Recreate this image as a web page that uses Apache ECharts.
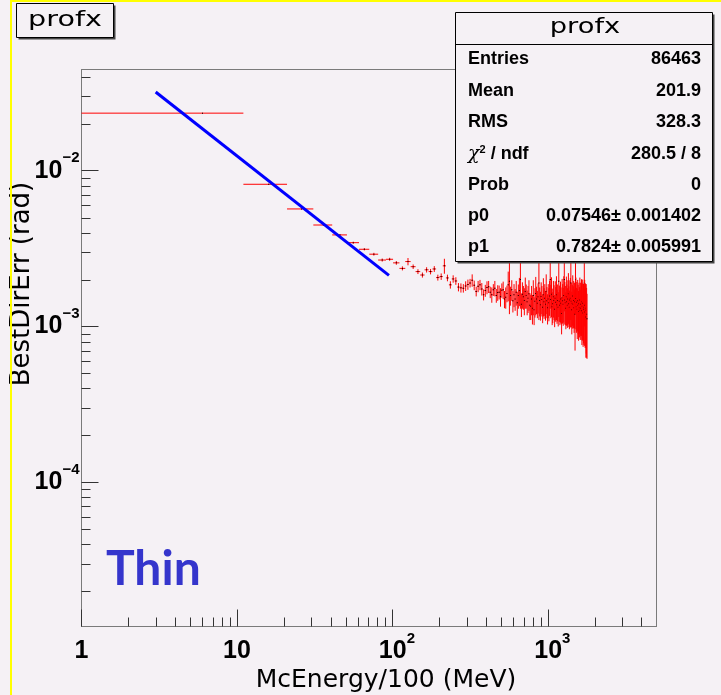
<!DOCTYPE html>
<html><head><meta charset="utf-8">
<script src="https://cdn.jsdelivr.net/npm/echarts@6/dist/echarts.min.js"></script>
<style>html,body{margin:0;padding:0;background:#f5f1f5;}#c{width:721px;height:695px;}</style>
</head><body><div id="c"></div>
<script>
// ---- axis ranges ----
const xMin = 1, xMax = 5000;
const yMin = 1.187e-5, yMax = 0.0446;
// ---- profile bins: [1+10k, 11+10k] ----
const binLow0 = 1, binWidth = 10;
const profMean = [
 0.0234,0.00818,0.00568,0.00448,0.00387,0.00345,0.00313,0.00291,0.00267,0.00270,
 0.00256,0.00236,0.00261,0.00242,0.00225,0.00214,0.00231,0.00225,0.00234,0.00206,
 0.00209,0.00245,0.00205,0.00185,0.00202,0.00196,0.00179,0.00177,0.00176,0.00182,
 0.00186,0.00190,0.00198,0.00184,0.00168,0.00181,0.00185,0.00174,0.00160,0.00170,
 0.00178,0.00180,0.00166,0.00160,0.00172,0.00176,0.00158,0.00165,0.00166,0.00155,
 0.00171,0.00172,0.00150,0.00154,0.00163,0.00185,0.00195,0.00158,0.00172,0.00146,
 0.00160,0.00150,0.00166,0.00142,0.00158,0.00170,0.00200,0.00139,0.00161,0.00155,
 0.00147,0.00168,0.00158,0.00144,0.00152,0.00162,0.00137,0.00135,0.00150,0.00131,
 0.00158,0.00128,0.00145,0.00163,0.00150,0.00141,0.00155,0.00190,0.00147,0.00138,
 0.00156,0.00149,0.00133,0.00160,0.00144,0.00152,0.00139,0.00168,0.00146,0.00132,
 0.00150,0.00142,0.00157,0.00200,0.00149,0.00161,0.00134,0.00140,0.00155,0.00147,
 0.00129,0.00152,0.00143,0.00160,0.00138,0.00147,0.00133,0.00195,0.00145,0.00137,
 0.00150,0.00141,0.00121,0.00153,0.00146,0.00139,0.00158,0.00200,0.00148,0.00142,
 0.00131,0.00155,0.00144,0.00137,0.00150,0.00162,0.00140,0.00133,0.00148,0.00152,
 0.00190,0.00145,0.00128,0.00141,0.00157,0.00139,0.00147,0.00132,0.00144,0.00120,
 0.00200,0.00151,0.00134,0.00143,0.00129,0.00146,0.00137,0.00125,0.00140,0.00132,
 0.00148,0.00127,0.00139,0.00131,0.00144,0.00126,0.00135,0.00141,0.00122,0.00133,
 0.00129,0.00190,0.00137,0.00124,0.00131,0.00115,0.00127,0.00120,0.00112
];
const profErr = [
 0.0001,0.00005,0.00004,0.00004,0.00004,0.00005,0.00005,0.00006,0.00006,0.00006,
 0.00007,0.00007,0.00014,0.00008,0.00008,0.00008,0.00009,0.00009,0.0001,0.00009,
 0.0001,0.00027,0.0001,0.0001,0.00011,0.00011,0.00011,0.00012,0.00011,0.00013,
 0.00014,0.00012,0.00018,0.00013,0.00012,0.00015,0.00014,0.00016,0.00013,0.00015,
 0.00017,0.00016,0.00014,0.00018,0.00015,0.00020,0.00016,0.00019,0.00017,0.00021,
 0.00018,0.00022,0.00019,0.00024,0.00020,0.00040,0.00075,0.00022,0.00026,0.00023,
 0.00027,0.00024,0.00030,0.00025,0.00028,0.00035,0.00070,0.00024,0.00031,0.00027,
 0.00029,0.00038,0.00028,0.00026,0.00030,0.00036,0.00027,0.00025,0.00032,0.00028,
 0.00040,0.00026,0.00031,0.00045,0.00030,0.00028,0.00034,0.00080,0.00031,0.00029,
 0.00036,0.00033,0.00028,0.00044,0.00032,0.00035,0.00030,0.00048,0.00033,0.00029,
 0.00037,0.00034,0.00040,0.00070,0.00036,0.00046,0.00032,0.00035,0.00041,0.00037,
 0.00030,0.00043,0.00036,0.00050,0.00034,0.00039,0.00033,0.00080,0.00038,0.00035,
 0.00044,0.00037,0.00032,0.00049,0.00041,0.00038,0.00052,0.00075,0.00045,0.00040,
 0.00035,0.00054,0.00042,0.00039,0.00048,0.00058,0.00041,0.00037,0.00050,0.00053,
 0.00080,0.00046,0.00039,0.00044,0.00056,0.00042,0.00049,0.00041,0.00047,0.00050,
 0.00080,0.00055,0.00043,0.00050,0.00046,0.00053,0.00048,0.00044,0.00051,0.00047,
 0.00058,0.00045,0.00052,0.00049,0.00057,0.00050,0.00054,0.00059,0.00048,0.00055,
 0.00053,0.00090,0.00062,0.00051,0.00058,0.00052,0.00060,0.00057,0.00050
];
// ---- fit line endpoints (p0 * x^-p1 drawn from x=3 to x=95) ----
const fitX = [3, 95];
const fitY = [0.0320, 0.00213];
// ---- minor ticks ----
const xMinorTicks = [2,3,4,5,6,7,8,9,20,30,40,50,60,70,80,90,200,300,400,500,600,700,800,900,2000,3000,4000];
const yMinorTicks = [2e-5,3e-5,4e-5,5e-5,6e-5,7e-5,8e-5,9e-5,2e-4,3e-4,4e-4,5e-4,6e-4,7e-4,8e-4,9e-4,
                     2e-3,3e-3,4e-3,5e-3,6e-3,7e-3,8e-3,9e-3,2e-2,3e-2,4e-2];
// ---- stats box ----
const statsTitle = 'profx';
const statsLabels = ['Entries','Mean','RMS','{g|χ}{s|2}{n| / ndf}','Prob','p0','p1'];
const statsValues = ['86463','201.9','328.3','280.5 / 8','0','0.07546± 0.001402','0.7824± 0.005991'];
const xTitle = 'McEnergy/100 (MeV)';
const yTitle = 'BestDirErr (rad)';
const histTitle = 'profx';
const tagText = 'Thin';

const BG = '#f5f1f5';
const chart = echarts.init(document.getElementById('c'), null, {renderer: 'canvas'});

const profData = profMean.map((m, i) => [binLow0 + i * binWidth, binLow0 + (i + 1) * binWidth, m, profErr[i]]);

function px(v) { return Math.round(v) + 0.5; }

const labelRich = {
  b: {fontSize: 25, fontWeight: 'bold', fontFamily: 'Liberation Sans', color: '#000', lineHeight: 40},
  s: {fontSize: 15, fontWeight: 'bold', fontFamily: 'Liberation Sans', color: '#000', lineHeight: 14, verticalAlign: 'top'},
  p: {width: 9}
};

const rowY = [59, 91, 122.5, 154, 185, 216.5, 247];
const statsGraphics = [];
statsLabels.forEach((l, i) => {
  statsGraphics.push({type: 'text', x: 468, y: rowY[i], z: 102,
    style: {text: l, font: 'bold 18px "Liberation Sans"', fill: '#000', align: 'left', verticalAlign: 'middle',
      textAlign: 'left', textVerticalAlign: 'middle',
      rich: {
        g: {font: 'italic 19px "DejaVu Serif"', fill: '#000', verticalAlign: 'bottom', lineHeight: 20},
        s: {font: 'bold 11px "Liberation Sans"', fill: '#000', verticalAlign: 'top', lineHeight: 10},
        n: {font: 'bold 18px "Liberation Sans"', fill: '#000', lineHeight: 20}
      }}});
  statsGraphics.push({type: 'text', x: 701, y: rowY[i], z: 102,
    style: {text: statsValues[i], font: 'bold 18px "Liberation Sans"', fill: '#000', align: 'right', verticalAlign: 'middle',
      textAlign: 'right', textVerticalAlign: 'middle'}});
});

const option = {
  backgroundColor: BG,
  animation: false,
  grid: {left: 81.5, top: 69.5, width: 575, height: 557, show: true, borderColor: '#7a7a7a', borderWidth: 1, backgroundColor: 'transparent'},
  xAxis: {
    type: 'log', logBase: 10, min: xMin, max: xMax, splitNumber: 4,
    axisLine: {show: true, lineStyle: {color: '#7a7a7a', width: 1}},
    axisTick: {show: true, inside: true, length: 17, lineStyle: {color: '#333', width: 1}},
    splitLine: {show: false},
    minorTick: {show: false},
    axisLabel: {
      showMinLabel: true, showMaxLabel: false, margin: 5,
      formatter: function (v) {
        const e = Math.round(Math.log10(v));
        if (e === 0) return '{b|1}';
        if (e === 1) return '{b|10}';
        return '{p|}{b|10}{s|' + e + '}';
      },
      rich: labelRich
    }
  },
  yAxis: {
    type: 'log', logBase: 10, min: yMin, max: yMax, splitNumber: 4,
    axisLine: {show: true, lineStyle: {color: '#7a7a7a', width: 1}},
    axisTick: {show: true, inside: true, length: 17, lineStyle: {color: '#333', width: 1}},
    splitLine: {show: false},
    minorTick: {show: false},
    axisLabel: {
      showMinLabel: false, showMaxLabel: false, margin: 2,
      formatter: function (v) {
        const e = Math.round(Math.log10(v));
        return '{b|10}{s|\u2212' + (-e) + '}';
      },
      rich: labelRich
    }
  },
  series: [
    {
      type: 'custom', name: 'xminor', silent: true, z: 1,
      data: xMinorTicks.map(v => [v, yMax]),
      encode: {x: 0, y: 1},
      renderItem: function (params, api) {
        const cs = params.coordSys;
        const p = api.coord([api.value(0), api.value(1)]);
        const b = cs.y + cs.height;
        return {type: 'line', shape: {x1: px(p[0]), y1: b, x2: px(p[0]), y2: b - 9}, style: {stroke: '#333', lineWidth: 1}};
      }
    },
    {
      type: 'custom', name: 'yminor', silent: true, z: 1,
      data: yMinorTicks.map(v => [xMin, v]),
      encode: {x: 0, y: 1},
      renderItem: function (params, api) {
        const cs = params.coordSys;
        const p = api.coord([api.value(0), api.value(1)]);
        return {type: 'line', shape: {x1: cs.x, y1: px(p[1]), x2: cs.x + 9, y2: px(p[1])}, style: {stroke: '#333', lineWidth: 1}};
      }
    },
    {
      type: 'custom', name: 'profx', silent: true, z: 3, clip: true,
      data: profData,
      encode: {x: [0, 1], y: 2},
      renderItem: function (params, api) {
        const lo = api.value(0), hi = api.value(1), m = api.value(2), e = api.value(3);
        const c = (lo + hi) / 2;
        const a = api.coord([lo, m]);
        const b = api.coord([hi, m]);
        const pc = api.coord([c, m]);
        const top = api.coord([c, m + e]);
        const bot = api.coord([c, Math.max(m - e, yMin * 0.5)]);
        return {type: 'group', children: [
          {type: 'line', shape: {x1: a[0], y1: pc[1], x2: b[0], y2: pc[1]}, style: {stroke: '#ff0000', lineWidth: 1}},
          {type: 'line', shape: {x1: pc[0], y1: top[1], x2: pc[0], y2: bot[1]}, style: {stroke: '#ff0000', lineWidth: 1}},
          {type: 'rect', shape: {x: pc[0] - 0.5, y: pc[1] - 0.5, width: 1, height: 1}, style: {fill: '#000'}}
        ]};
      }
    },
    {
      type: 'line', name: 'fit', z: 5, symbol: 'none', silent: true,
      data: fitX.map((x, i) => [x, fitY[i]]),
      lineStyle: {color: '#0000ff', width: 3}
    }
  ],
  graphic: [
    {type: 'line', z: 90, shape: {x1: 11, y1: 0, x2: 11, y2: 695}, style: {stroke: '#ffff00', lineWidth: 2}},
    {type: 'line', z: 90, shape: {x1: 10, y1: 1, x2: 721, y2: 1}, style: {stroke: '#ffff00', lineWidth: 2}},
    // histogram title box
    {type: 'rect', z: 100, shape: {x: 18.5, y: 5.5, width: 97, height: 34}, style: {fill: '#444'}},
    {type: 'rect', z: 101, shape: {x: 16.5, y: 3.5, width: 97, height: 34}, style: {fill: BG, stroke: '#000', lineWidth: 1}},
    {type: 'text', z: 102, x: 65, y: 20.5, scaleX: 1.3,
      style: {text: histTitle, font: '22px "DejaVu Sans"', fill: '#000', align: 'center', verticalAlign: 'middle', textAlign: 'center', textVerticalAlign: 'middle'}},
    // stats box
    {type: 'rect', z: 100, shape: {x: 457.5, y: 14.5, width: 257, height: 249}, style: {fill: '#444'}},
    {type: 'rect', z: 101, shape: {x: 455.5, y: 12.5, width: 257, height: 249}, style: {fill: BG, stroke: '#000', lineWidth: 1}},
    {type: 'line', z: 102, shape: {x1: 455.5, y1: 44.5, x2: 712.5, y2: 44.5}, style: {stroke: '#000', lineWidth: 1}},
    {type: 'text', z: 102, x: 585, y: 28, scaleX: 1.3,
      style: {text: statsTitle, font: '21px "DejaVu Sans"', fill: '#000', align: 'center', verticalAlign: 'middle', textAlign: 'center', textVerticalAlign: 'middle'}},
    ...statsGraphics,
    // axis titles
    {type: 'text', z: 50, x: 386, y: 680,
      style: {text: xTitle, font: '25px "DejaVu Sans"', fill: '#000', align: 'center', verticalAlign: 'middle', textAlign: 'center', textVerticalAlign: 'middle'}},
    {type: 'text', z: 50, x: 22, y: 284, rotation: Math.PI / 2,
      style: {text: yTitle, font: '26px "DejaVu Sans"', fill: '#000', align: 'center', verticalAlign: 'middle', textAlign: 'center', textVerticalAlign: 'middle'}},
    // tag
    {type: 'text', z: 50, x: 106, y: 570,
      style: {text: tagText, font: 'bold 48px Lato', fill: '#3535cc', align: 'left', verticalAlign: 'middle', textAlign: 'left', textVerticalAlign: 'middle'}}
  ]
};
chart.setOption(option);
</script>
</body></html>
